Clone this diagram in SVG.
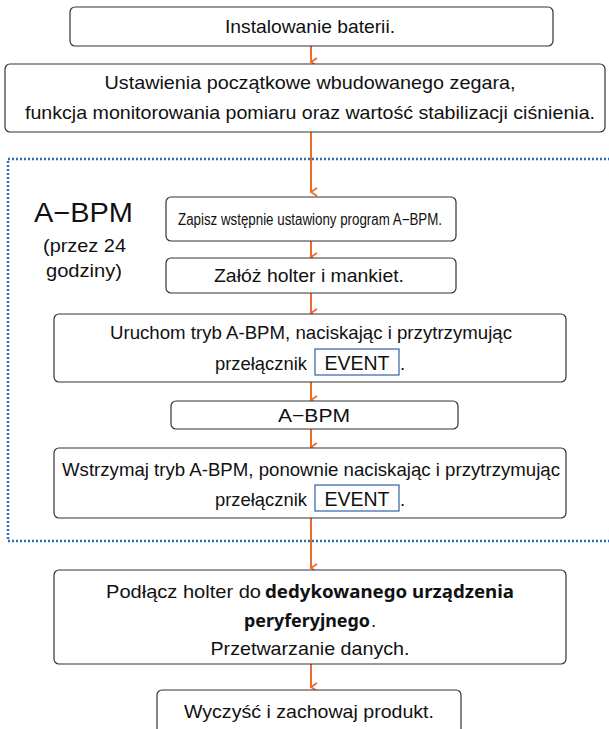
<svg xmlns="http://www.w3.org/2000/svg" width="609" height="729" viewBox="0 0 609 729">
<style>
.box{fill:#fff;stroke:#333;stroke-width:1.2}
.t{font-family:"Liberation Sans",Arial,sans-serif;font-size:18.5px;fill:#111}
.c{text-anchor:middle}
.b{font-family:"Noto Sans","DejaVu Sans",sans-serif;font-weight:bold;font-size:18px;fill:#111}
.ev{fill:none;stroke:#2e62a8;stroke-width:1.2}
.arr{stroke:#ef6a2c;stroke-width:2;fill:none;marker-end:url(#ah)}
</style>
<defs>
<marker id="ah" markerWidth="10" markerHeight="10" refX="5" refY="8" orient="auto" markerUnits="userSpaceOnUse" viewBox="0 0 10 10">
<polyline points="1,2 5,8 9,2" fill="none" stroke="#ef6a2c" stroke-width="1.8"/>
</marker>
</defs>
<rect x="8" y="159" width="610" height="382" fill="none" stroke="#2e6db8" stroke-width="2.5" stroke-dasharray="2 2"/>
<g id="connectors">
<line class="arr" x1="311" y1="46" x2="311" y2="62"/>
<line class="arr" x1="311" y1="132" x2="311" y2="192"/>
<line class="arr" x1="311" y1="241" x2="311" y2="257"/>
<line class="arr" x1="311" y1="293" x2="311" y2="313"/>
<line class="arr" x1="311" y1="382" x2="311" y2="400"/>
<line class="arr" x1="311" y1="429" x2="311" y2="447"/>
<line class="arr" x1="311" y1="518" x2="311" y2="568"/>
<line class="arr" x1="311" y1="664" x2="311" y2="687"/>
</g>
<g id="n1"><rect class="box" x="70" y="7" width="483" height="39" rx="5"/>
<text class="t c" x="310" y="33" textLength="170" lengthAdjust="spacingAndGlyphs">Instalowanie baterii.</text></g>
<g id="n2"><rect class="box" x="5" y="64" width="600" height="68" rx="5"/>
<text class="t c" x="310" y="89" textLength="411" lengthAdjust="spacingAndGlyphs">Ustawienia początkowe wbudowanego zegara,</text>
<text class="t c" x="310" y="119" textLength="570" lengthAdjust="spacingAndGlyphs">funkcja monitorowania pomiaru oraz wartość stabilizacji ciśnienia.</text></g>
<g id="label">
<text class="t" x="34" y="222" style="font-size:28px" textLength="99" lengthAdjust="spacingAndGlyphs">A−BPM</text>
<text class="t" x="43" y="252" textLength="83" lengthAdjust="spacingAndGlyphs">(przez 24</text>
<text class="t" x="46" y="277" textLength="76" lengthAdjust="spacingAndGlyphs">godziny)</text></g>
<g id="n3"><rect class="box" x="166" y="197" width="290" height="44" rx="5"/>
<text class="t c" x="310" y="225" style="font-size:16px" textLength="264" lengthAdjust="spacingAndGlyphs">Zapisz wstępnie ustawiony program A−BPM.</text></g>
<g id="n4"><rect class="box" x="166" y="258" width="290" height="35" rx="5"/>
<text class="t c" x="309" y="282" textLength="190" lengthAdjust="spacingAndGlyphs">Załóż holter i mankiet.</text></g>
<g id="n5"><rect class="box" x="54" y="314" width="512" height="68" rx="5"/>
<text class="t c" x="311" y="339" textLength="402" lengthAdjust="spacingAndGlyphs">Uruchom tryb A-BPM, naciskając i przytrzymując</text>
<text class="t" x="215" y="370" textLength="92" lengthAdjust="spacingAndGlyphs">przełącznik</text>
<rect class="ev" x="315" y="349" width="84" height="26"/>
<text class="t c" x="357" y="370" style="font-size:19.5px">EVENT</text>
<text class="t" x="400" y="370">.</text></g>
<g id="n6"><rect class="box" x="171" y="401" width="287" height="28" rx="5"/>
<text class="t c" x="314" y="422" textLength="72" lengthAdjust="spacingAndGlyphs">A−BPM</text></g>
<g id="n7"><rect class="box" x="54" y="448" width="512" height="70" rx="5"/>
<text class="t c" x="311" y="476" textLength="498" lengthAdjust="spacingAndGlyphs">Wstrzymaj tryb A-BPM, ponownie naciskając i przytrzymując</text>
<text class="t" x="215" y="506" textLength="92" lengthAdjust="spacingAndGlyphs">przełącznik</text>
<rect class="ev" x="315" y="485" width="84" height="26"/>
<text class="t c" x="357" y="506" style="font-size:19.5px">EVENT</text>
<text class="t" x="400" y="506">.</text></g>
<g id="n8"><rect class="box" x="54" y="570" width="512" height="94" rx="5"/>
<text class="t" x="106" y="598" textLength="155" lengthAdjust="spacingAndGlyphs">Podłącz holter do</text>
<text class="b" x="265" y="598" textLength="249" lengthAdjust="spacingAndGlyphs">dedykowanego urządzenia</text>
<text class="b" x="244" y="627" textLength="126" lengthAdjust="spacingAndGlyphs">peryferyjnego</text>
<text class="t" x="371" y="627">.</text>
<text class="t c" x="310" y="655" textLength="199" lengthAdjust="spacingAndGlyphs">Przetwarzanie danych.</text></g>
<g id="n9"><rect class="box" x="157" y="690" width="304" height="46" rx="5"/>
<text class="t c" x="309" y="718" textLength="250" lengthAdjust="spacingAndGlyphs">Wyczyść i zachowaj produkt.</text></g>
</svg>
